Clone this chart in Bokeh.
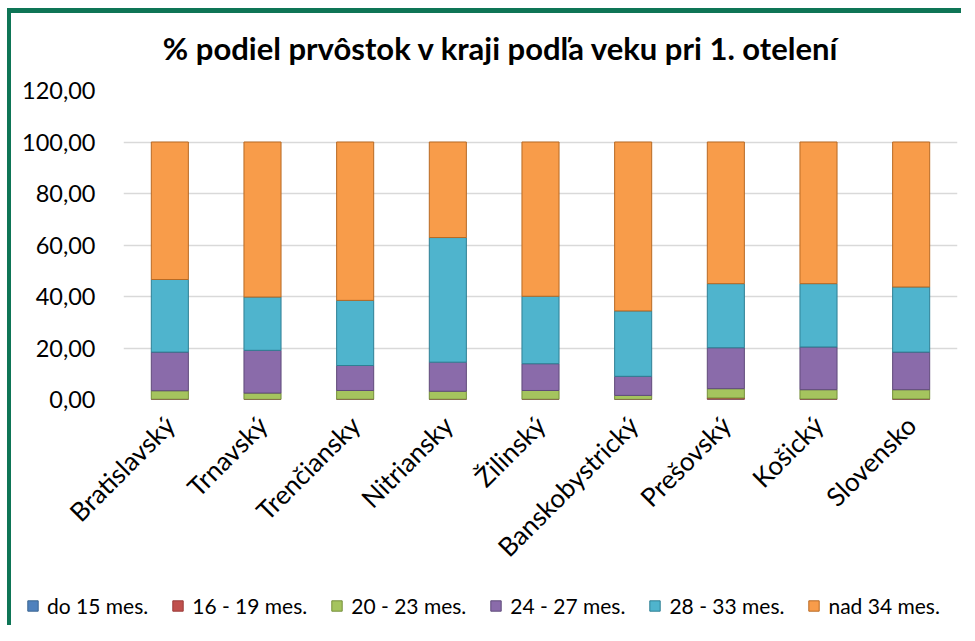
from bokeh.plotting import figure
from bokeh.layouts import column
from bokeh.models import Range1d, FixedTicker, Legend, LegendItem, Label
from bokeh.embed import file_html
from bokeh.resources import INLINE
import math

title_text = "% podiel prvôstok v kraji podľa veku pri 1. otelení"
categories = ["Bratislavský", "Trnavský", "Trenčiansky", "Nitriansky", "Žilinský",
              "Banskobystrický", "Prešovský", "Košický", "Slovensko"]
series_names = ["do 15 mes.", "16 - 19 mes.", "20 - 23 mes.", "24 - 27 mes.", "28 - 33 mes.", "nad 34 mes."]
do15 = [0.0, 0.0, 0.0, 0.0, 0.0, 0.0, 0.0, 0.0, 0.0]
m16_19 = [0.1, 0.05, 0.1, 0.1, 0.1, 0.05, 0.6, 0.2, 0.2]
m20_23 = [3.3, 2.45, 3.4, 3.1, 3.4, 1.55, 3.6, 3.6, 3.6]
m24_27 = [15.0, 16.6, 9.7, 11.3, 10.4, 7.4, 15.9, 16.6, 14.6]
m28_33 = [28.2, 20.7, 25.3, 48.4, 26.2, 25.4, 24.9, 24.6, 25.3]
nad34 = [53.4, 60.2, 61.5, 37.1, 59.9, 65.6, 55.0, 55.0, 56.3]
y_ticks = [0, 20, 40, 60, 80, 100, 120]

colors = ["#4F81BD", "#C0504D", "#A5C45E", "#8A6BAA", "#4FB4CD", "#F89C4A"]
edges = ["#3A6591", "#9A3A38", "#758F3A", "#5F4A7A", "#2E7F94", "#B86A24"]

keys = ["s0", "s1", "s2", "s3", "s4", "s5"]
data = {"cat": categories}
for k, arr in zip(keys, [do15, m16_19, m20_23, m24_27, m28_33, nad34]):
    data[k] = arr

FONT = "Lato"
W = 950
TH = 60  # height of the title strip

# title strip
tt = figure(x_range=Range1d(0, W), y_range=Range1d(0, TH), width=W, height=TH,
            output_backend="svg", toolbar_location=None,
            min_border_left=0, min_border_right=0, min_border_top=0, min_border_bottom=0)
tt.frame_align = False
tt.axis.visible = False
tt.grid.grid_line_color = None
tt.outline_line_color = None
tt.add_layout(Label(x=W * 0.5155, y=TH - 34, text=title_text, text_align="center",
                    text_baseline="middle", text_font=FONT, text_font_size="31px",
                    text_font_style="bold", text_color="#000000"))

# main chart
p = figure(x_range=categories, y_range=Range1d(0, 120), width=W, height=572 - TH,
           output_backend="svg", toolbar_location=None,
           min_border_left=112, min_border_right=4, min_border_top=77 - TH, min_border_bottom=186)
p.frame_align = False
p.title.visible = False

renderers = p.vbar_stack(keys, x="cat", width=0.4, source=data, color=colors,
                         line_color=edges, line_width=1)
p.x_range.range_padding = 0

p.yaxis.ticker = FixedTicker(ticks=y_ticks)
p.yaxis.major_label_overrides = {t: f"{t:.2f}".replace(".", ",") for t in y_ticks}
p.yaxis.major_label_text_font = FONT
p.yaxis.major_label_text_font_size = "23.5px"
p.yaxis.major_label_text_color = "#000000"
p.yaxis.axis_line_color = None
p.yaxis.major_tick_line_color = None
p.yaxis.minor_tick_line_color = None
p.yaxis.major_label_standoff = 22

p.xaxis.major_label_orientation = math.pi / 4
p.xaxis.major_label_text_font = FONT
p.xaxis.major_label_text_font_size = "26px"
p.xaxis.major_label_text_color = "#000000"
p.xaxis.axis_line_color = None
p.xaxis.major_tick_line_color = None
p.xaxis.minor_tick_line_color = None
p.xaxis.major_label_standoff = 15

p.xgrid.grid_line_color = None
p.ygrid.grid_line_color = "#D9D9D9"
p.ygrid.grid_line_width = 1.5
p.outline_line_color = None

# legend strip (its own small figure so the legend can span the full width)
lg = figure(x_range=categories, y_range=Range1d(1000, 1001), width=W, height=40,
            output_backend="svg", toolbar_location=None,
            min_border_left=0, min_border_right=0, min_border_top=0, min_border_bottom=0)
lg.frame_align = False
lg_renderers = lg.vbar_stack(keys, x="cat", width=0.4, source=data, color=colors,
                             line_color=edges, line_width=1)
lg.axis.visible = False
lg.grid.grid_line_color = None
lg.outline_line_color = None

items = [LegendItem(label=n, renderers=[r]) for n, r in zip(series_names, lg_renderers)]
legend = Legend(items=items, orientation="horizontal", location=(15, 7),
                glyph_width=13, glyph_height=13, label_standoff=8, spacing=23,
                padding=0, margin=0, border_line_color=None, background_fill_alpha=0,
                label_text_font=FONT, label_text_font_size="21px", label_text_color="#000000")
lg.add_layout(legend, "center")

layout = column(tt, p, lg, spacing=0)
layout.styles = {"border-left": "4px solid #0E7556", "border-top": "5px solid #0E7556",
                 "margin-left": "7px", "margin-top": "8px"}

open("out.html", "w").write(file_html(layout, INLINE))
